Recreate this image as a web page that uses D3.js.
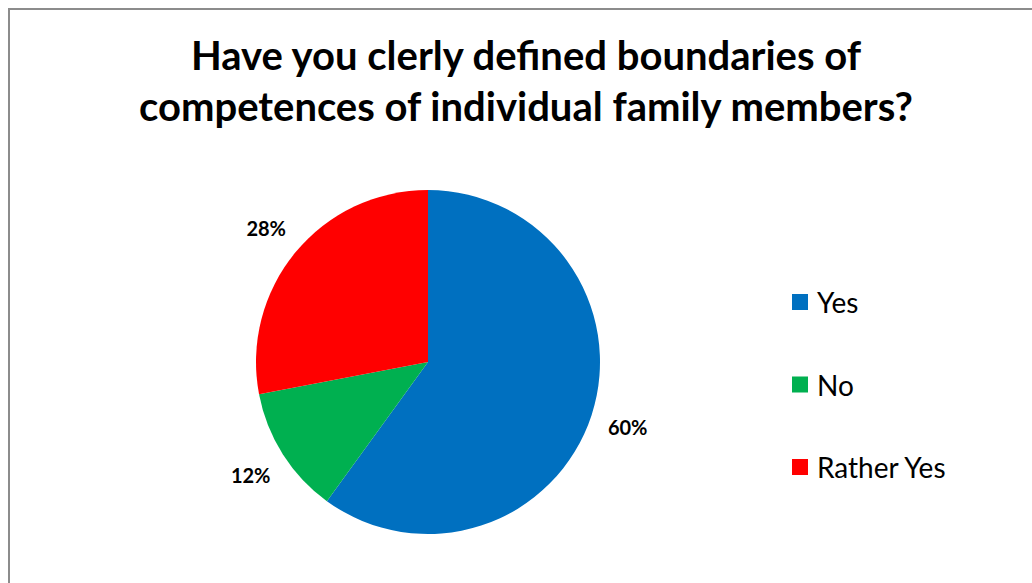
<!DOCTYPE html>
<html>
<head>
<meta charset="utf-8">
<script src="https://cdn.jsdelivr.net/npm/d3@7"></script>
<style>
  html, body { margin: 0; padding: 0; background: #fff; }
  svg { display: block; }
</style>
</head>
<body>
<svg id="chart" width="1032" height="583"></svg>
<script>
// Survey answers and their shares (percent)
const categories = ["Yes", "No", "Rather Yes"];
const values = [60, 12, 28];
const colors = ["#0070C0", "#00B050", "#FF0000"];
const titleLines = ["Have you clerly defined boundaries of", "competences of individual family members?"];

const svg = d3.select("#chart");
const font = "Lato, 'Open Sans', sans-serif";

// Chart frame
svg.append("rect")
  .attr("x", 9).attr("y", 9)
  .attr("width", 1040).attr("height", 600)
  .attr("fill", "#fff")
  .attr("stroke", "#8c8c8c")
  .attr("stroke-width", 2);

// Title
svg.append("g").selectAll("text")
  .data(titleLines)
  .join("text")
  .attr("x", 526)
  .attr("y", (d, i) => 70 + i * 51)
  .attr("text-anchor", "middle")
  .attr("font-family", font)
  .attr("font-weight", "bold")
  .attr("font-size", 40)
  .attr("fill", "#000")
  .text(d => d);

// Pie
const cx = 428, cy = 362, r = 172;
const pie = d3.pie().sort(null).value(d => d)(values);
const arc = d3.arc().innerRadius(0).outerRadius(r);
const labelArc = d3.arc().innerRadius(210).outerRadius(210);

const g = svg.append("g").attr("transform", `translate(${cx},${cy})`);
g.selectAll("path")
  .data(pie)
  .join("path")
  .attr("d", arc)
  .attr("fill", (d, i) => colors[i]);

g.selectAll("text")
  .data(pie)
  .join("text")
  .attr("transform", d => `translate(${labelArc.centroid(d)})`)
  .attr("text-anchor", "middle")
  .attr("dominant-baseline", "central")
  .attr("font-family", font)
  .attr("font-weight", "bold")
  .attr("font-size", 20)
  .attr("fill", "#000")
  .text(d => d.data + "%");

// Legend
const legendY = d3.scalePoint().domain(categories).range([302, 467]);
const legend = svg.append("g").selectAll("g")
  .data(categories)
  .join("g")
  .attr("transform", d => `translate(792,${legendY(d)})`);
legend.append("rect")
  .attr("x", 0).attr("y", -8)
  .attr("width", 16).attr("height", 16)
  .attr("fill", (d, i) => colors[i]);
legend.append("text")
  .attr("x", 25)
  .attr("y", 0)
  .attr("dominant-baseline", "central")
  .attr("font-family", font)
  .attr("font-size", 28)
  .attr("fill", "#000")
  .text(d => d);
</script>
</body>
</html>
